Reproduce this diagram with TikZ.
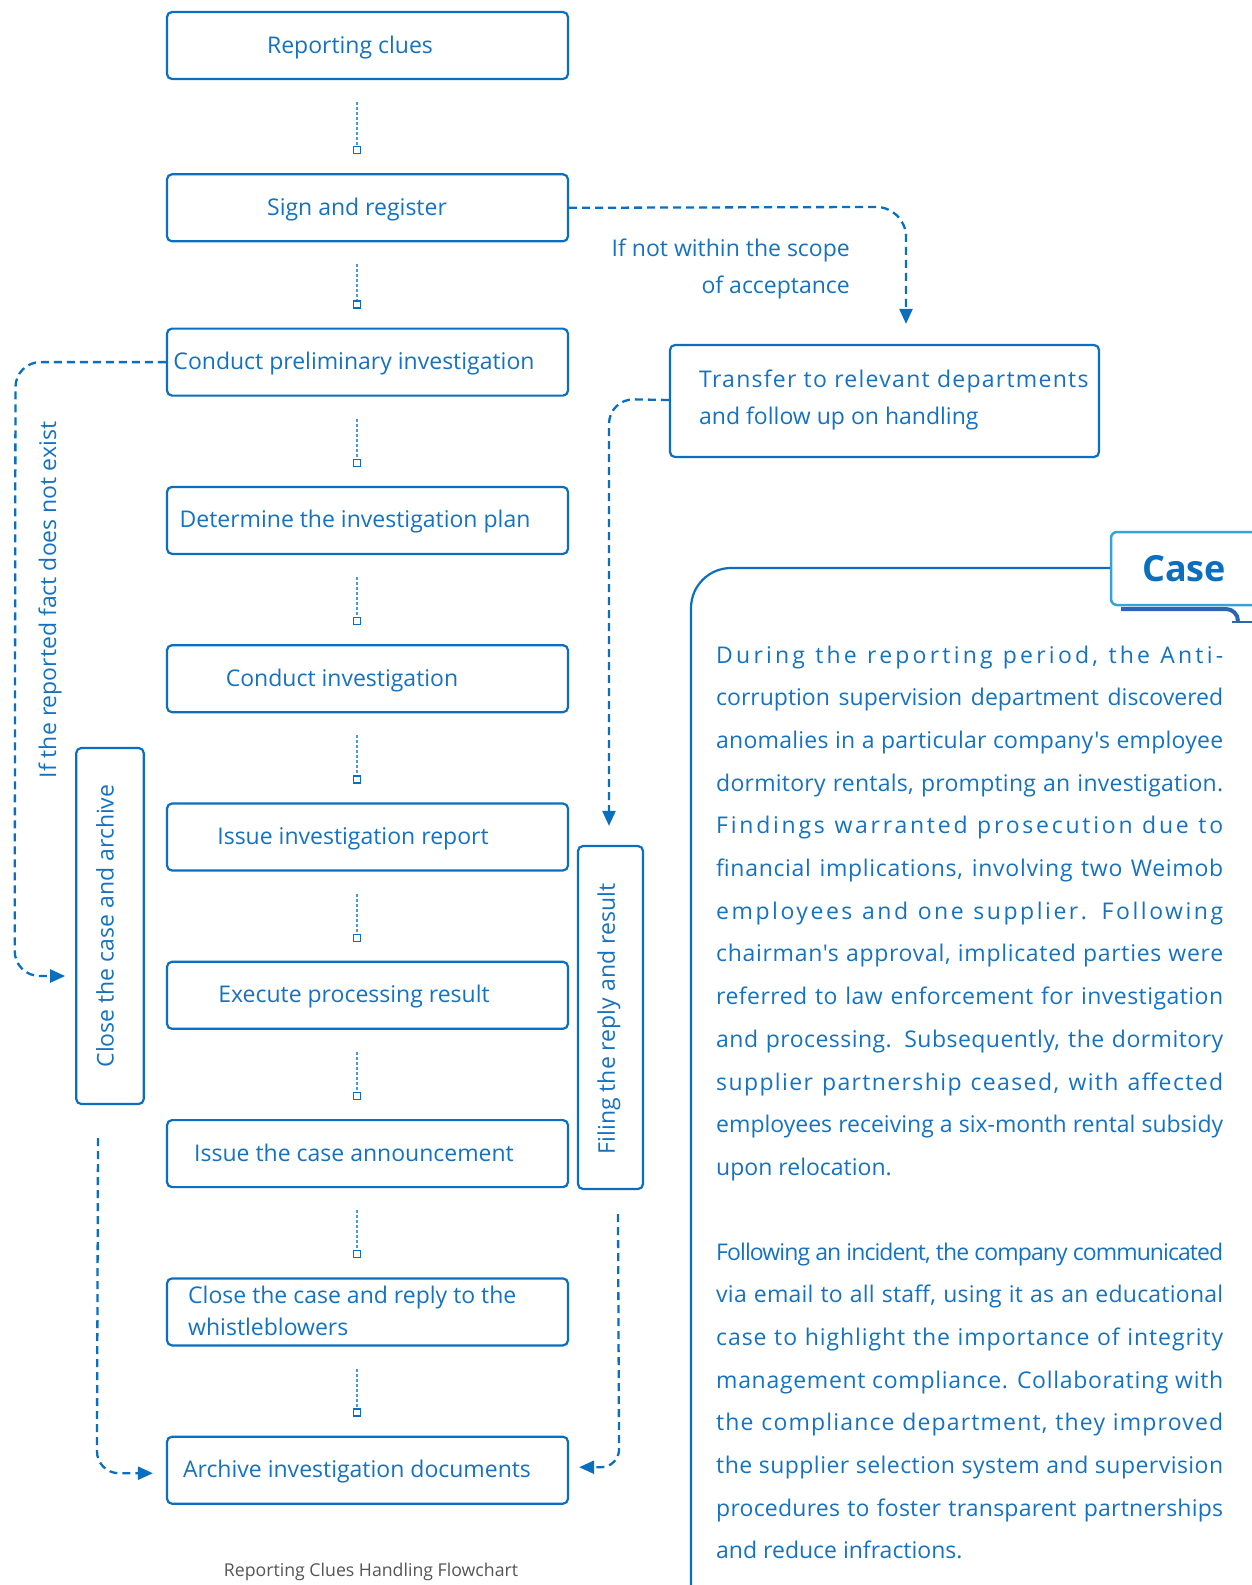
\documentclass[tikz,border=0pt]{standalone}
\usepackage{fontspec}
\setmainfont{Open Sans}[Ligatures=TeXOff]
\usepackage{graphicx}
\usetikzlibrary{arrows.meta,calc}

\definecolor{mainblue}{HTML}{0B6EBE}
\definecolor{textblue}{HTML}{1672C0}
\definecolor{linkblue}{HTML}{4D98D6}
\definecolor{tabblue}{HTML}{35A3D8}
\definecolor{shadeblue}{HTML}{2B66B3}
\definecolor{capgray}{HTML}{555555}

% one justified line of the case text: adjust the letter spacing step by
% step until the line just fits the measure, then spread the rest
\newlength\jlw
\newcount\lsc
\def\measureline#1{\settowidth\jlw{\addfontfeatures{LetterSpace=\the\lsc}#1}}
\def\growline#1{%
  \loop\ifdim\jlw<\ifnum\lsc>60 0pt\else 507pt\fi
    \advance\lsc by 1 \measureline{#1}%
  \repeat
  \advance\lsc by -1 }
\def\shrinkline#1{%
  \loop\ifdim\jlw>\ifnum\lsc<-60 100000pt\else 507pt\fi
    \advance\lsc by -1 \measureline{#1}%
  \repeat}
\newcommand\jline[1]{%
  \lsc=0 \settowidth\jlw{#1}%
  \ifdim\jlw>507pt \shrinkline{#1}\else \growline{#1}\fi
  \makebox[507pt][s]{\addfontfeatures{LetterSpace=\the\lsc}#1}}

\begin{document}
\begin{tikzpicture}[x=1pt,y=-1pt,
  stepbox/.style={draw=mainblue,line width=2.2pt,rounded corners=5pt,
    minimum width=401pt,minimum height=67pt,inner sep=0pt,fill=white},
  boxtext/.style={text=textblue,font=\fontsize{23}{28}\selectfont,inner sep=0pt,anchor=base},
  link/.style={draw=linkblue,line width=1.2pt,dash pattern=on 3pt off 2pt},
  sq/.style={draw=mainblue,fill=white,line width=1.3pt,minimum size=7pt,inner sep=0pt,solid},
  flow/.style={draw=mainblue,line width=2.3pt,dash pattern=on 8pt off 5pt,
    -{Triangle[length=15pt,width=13pt]}},
  para/.style={text=textblue,font=\fontsize{23}{28}\selectfont,inner sep=0pt,anchor=base west}]

\useasboundingbox (0,0) rectangle (1252,1585);

% main column of steps
\foreach \i/\y in {0/45.5,1/207.8,2/362.1,3/520.4,4/678.7,5/837,6/995.3,7/1153.6,8/1311.9,9/1470.2}
  \node[stepbox] (b\i) at (367.5,\y) {};

\node[boxtext] (t0) at (350,53) {Reporting clues};
\node[boxtext] (t1) at (357,215.3) {Sign and register};
\node[boxtext] (t2) at (354,369.6) {Conduct preliminary investigation};
\node[boxtext] (t3) at (355,527.9) {Determine the investigation plan};
\node[boxtext] (t4) at (342,686.2) {Conduct investigation};
\node[boxtext] (t5) at (353,844.5) {Issue investigation report};
\node[boxtext] (t6) at (354,1002.8) {Execute processing result};
\node[boxtext] (t7) at (354,1161.1) {Issue the case announcement};
\node[boxtext,anchor=base west] (t8a) at (188,1303) {Close the case and reply to the};
\node[boxtext,anchor=base west] (t8b) at (188,1335) {whistleblowers};
\node[boxtext] (t9) at (357,1477.7) {Archive investigation documents};

% dotted links between consecutive steps
\foreach \a/\b in {0/1,1/2,2/3,3/4,4/5,5/6,6/7,7/8,8/9}
  \draw[link] ($(b\a.south)+(-10.5,22)$) -- ($(b\b.north)+(-10.5,-23)$) node[sq] (s\b) {};

% side boxes
\node[stepbox,minimum width=429pt,minimum height=112pt] (tr) at (884.5,401) {};
\node[boxtext,anchor=base west] (tra) at (699,387)
  {\addfontfeatures{LetterSpace=5.5}Transfer to relevant departments};
\node[boxtext,anchor=base west] (trb) at (699,424) {and follow up on handling};

\node[stepbox,minimum width=67.5pt,minimum height=356pt] (cl) at (110,926) {};
\node[boxtext,anchor=center,rotate=90] (clt) at (105,926) {Close the case and archive};

\node[stepbox,minimum width=65pt,minimum height=343pt] (fi) at (610.5,1017.5) {};
\node[boxtext,anchor=center,rotate=90] (fit) at (609,1019) {Filing the reply and result};

% dashed branches
\draw[flow,rounded corners=30pt] (b1.east) -- ($(tr.north)+(21.5,-137)$) -- ($(tr.north)+(21.5,-20)$);
\node[boxtext,anchor=base east] (nota) at (850,256) {If not within the scope};
\node[boxtext,anchor=base east] (notb) at (850,293) {of acceptance};

\draw[flow,rounded corners=25pt] (b2.west) -- (15.5,362.1) -- ($(cl.west)+(-60.5,50)$) -- ($(cl.west)+(-10,50)$);
\node[boxtext,anchor=center,rotate=90] (noex) at (50,600) {If the reported fact does not exist};

\draw[flow,rounded corners=22pt] ($(cl.south)+(-12,33)$) -- ($(b9.west)+(-69,3)$) -- ($(b9.west)+(-13,3)$);

\draw[flow,rounded corners=25pt] ($(tr.west)+(0,-1)$) -- ($(fi.north)+(-1.5,-446)$) -- ($(fi.north)+(-1.5,-19)$);

\draw[flow,rounded corners=18pt] ($(fi.south)+(7.5,24)$) -- ($(b9.east)+(50,-3)$) -- ($(b9.east)+(10,-3)$);

% case panel
\draw[mainblue,line width=2.2pt,rounded corners=40pt] (1111,568) -- (691,568) -- (691,1610);
\draw[shadeblue,line width=4pt] (1121,609) -- (1226,609) to[out=0,in=90] (1238,621);
\draw[shadeblue,line width=2pt] (1232,622) -- (1252,622);
\draw[tabblue,line width=2.5pt,fill=white,rounded corners=6pt] (1111,532) rectangle (1275,605);
\node[text=mainblue,font=\fontsize{36}{40}\selectfont\bfseries,inner sep=0pt] (casetitle) at (1184,569) {Case};

\foreach \t [count=\i] in {
  {During the reporting period, the Anti-},
  {corruption supervision department discovered},
  {anomalies in a particular company's employee},
  {dormitory rentals, prompting an investigation.},
  {Findings warranted prosecution due to},
  {financial implications, involving two Weimob},
  {employees and one supplier. Following},
  {chairman's approval, implicated parties were},
  {referred to law enforcement for investigation},
  {and processing. Subsequently, the dormitory},
  {supplier partnership ceased, with affected},
  {employees receiving a six-month rental subsidy}}
  \node[para] (pa\i) at (716,{663+42.7*(\i-1)}) {\jline{\t}};
\node[para] (pa13) at (716,1175.4) {upon relocation.};

\foreach \t [count=\i] in {
  {Following an incident, the company communicated},
  {via email to all staff, using it as an educational},
  {case to highlight the importance of integrity},
  {management compliance. Collaborating with},
  {the compliance department, they improved},
  {the supplier selection system and supervision},
  {procedures to foster transparent partnerships}}
  \node[para] (pb\i) at (716,{1260+42.7*(\i-1)}) {\jline{\t}};
\node[para] (pb8) at (716,1558.9) {and reduce infractions.};

% caption
\node[text=capgray,font=\fontsize{17.7}{20}\selectfont,inner sep=0pt] (caption) at (371,1572) {Reporting Clues Handling Flowchart};
\end{tikzpicture}
\end{document}
